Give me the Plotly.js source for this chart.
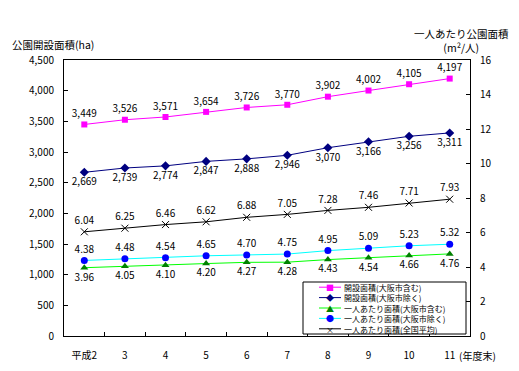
<!DOCTYPE html>
<html><head><meta charset="utf-8">
<script src="https://cdn.plot.ly/plotly-3.0.1.min.js"></script>
<style>html,body{margin:0;padding:0;background:#fff}</style>
</head><body><div id="chart" style="width:519px;height:371px"></div>
<script>
const years = ['平成2','3','4','5','6','7','8','9','10','11'];
const areaInclOsaka = [3449,3526,3571,3654,3726,3770,3902,4002,4105,4197];
const areaExclOsaka = [2669,2739,2774,2847,2888,2946,3070,3166,3256,3311];
const perCapInclOsaka = [3.96,4.05,4.10,4.20,4.27,4.28,4.43,4.54,4.66,4.76];
const perCapExclOsaka = [4.38,4.48,4.54,4.65,4.70,4.75,4.95,5.09,5.23,5.32];
const perCapNational = [6.04,6.25,6.46,6.62,6.88,7.05,7.28,7.46,7.71,7.93];
const seriesNames = ['開設面積(大阪市含む)','開設面積(大阪市除く)','一人あたり面積(大阪市含む)','一人あたり面積(大阪市除く)','一人あたり面積(全国平均)'];

const FONT = 'Noto Sans CJK JP, Liberation Sans, sans-serif';
const L = 64, R = 470, T = 60, B = 336;
const px = x => (x - L) / (R - L);
const py = y => (B - y) / (B - T);

const lbl = {family: FONT, size: 10, color: '#000'};
const traces = [
  {x: years, y: areaInclOsaka, name: seriesNames[0], yaxis: 'y', mode: 'lines+markers+text',
   line: {color: '#FF00FF', width: 1}, marker: {symbol: 'square', size: 6, color: '#FF00FF'},
   texttemplate: '%{y:,}', textposition: 'top center', textfont: lbl},
  {x: years, y: areaExclOsaka, name: seriesNames[1], yaxis: 'y', mode: 'lines+markers+text',
   line: {color: '#000080', width: 1}, marker: {symbol: 'diamond', size: 7, color: '#000080'},
   texttemplate: '%{y:,}', textposition: 'bottom center', textfont: lbl},
  {x: years, y: perCapInclOsaka, name: seriesNames[2], yaxis: 'y2', mode: 'lines+markers+text',
   line: {color: '#00FF00', width: 1}, marker: {symbol: 'triangle-up', size: 7, color: '#008000'},
   texttemplate: '%{y:.2f}', textposition: 'bottom center', textfont: lbl},
  {x: years, y: perCapExclOsaka, name: seriesNames[3], yaxis: 'y2', mode: 'lines+markers+text',
   line: {color: '#00FFFF', width: 1}, marker: {symbol: 'circle', size: 7, color: '#0000FF'},
   texttemplate: '%{y:.2f}', textposition: 'top center', textfont: lbl},
  {x: years, y: perCapNational, name: seriesNames[4], yaxis: 'y2', mode: 'lines+markers+text',
   line: {color: '#000000', width: 1}, marker: {symbol: 'x-thin', size: 7, line: {color: '#000', width: 1}},
   texttemplate: '%{y:.2f}', textposition: 'top center', textfont: lbl}
];

// custom legend (one multi-line text block so rows do not collide)
const legColors = [['#FF00FF','#FF00FF','■'],['#000080','#000080','◆'],['#00FF00','#008000','▲'],['#00FFFF','#0000FF','●'],['#000000','#000000','×']];
const LEG_FS = 8, rowGap = LEG_FS * 1.3, legC = 308;
const rowsY = [-2, -1, 0, 1, 2].map(k => legC + k * rowGap);
const shapes = [{type:'rect', xref:'paper', yref:'paper', x0:px(303), x1:px(466), y0:py(334), y1:py(282),
  line:{color:'#000', width:1}, fillcolor:'#fff', layer:'above'}];
rowsY.forEach((ry, i) => {
  shapes.push({type:'line', xref:'paper', yref:'paper', x0:px(319), x1:px(341), y0:py(ry), y1:py(ry),
    line:{color:legColors[i][0], width:1}, layer:'above'});
});
const annotations = [];
annotations.push({xref:'paper', yref:'paper', x:px(330), y:py(legC), showarrow:false, xanchor:'center', yanchor:'middle',
  align:'center', borderpad:0, font:{family:FONT, size:LEG_FS, color:'#000'},
  text: legColors.map(c => `<span style="color:${c[1]}">${c[2]}</span>`).join('<br>')});
annotations.push({xref:'paper', yref:'paper', x:px(343), y:py(legC), showarrow:false, xanchor:'left', yanchor:'middle',
  align:'left', borderpad:0, font:{family:FONT, size:LEG_FS, color:'#000'}, text: seriesNames.join('<br>')});

annotations.push({xref:'paper', yref:'paper', x:px(10), y:py(45), text:'公園開設面積(ha)', showarrow:false,
  xanchor:'left', yanchor:'middle', font:{family:FONT, size:10.5, color:'#000'}});
annotations.push({xref:'paper', yref:'paper', x:px(461), y:py(41), text:'一人あたり公園面積<br>(m²/人)', showarrow:false,
  xanchor:'center', yanchor:'middle', align:'center', font:{family:FONT, size:10.5, color:'#000'}});
annotations.push({xref:'paper', yref:'paper', x:px(457), y:py(355), text:'(年度末)', showarrow:false,
  xanchor:'left', yanchor:'middle', font:{family:FONT, size:10, color:'#000'}});

const axBase = {showline:true, linecolor:'#000', linewidth:1, showgrid:false, zeroline:false,
  ticks:'inside', ticklen:4, tickcolor:'#000', tickfont:{family:FONT, size:10, color:'#000'}};
const layout = {
  width:519, height:371, margin:{l:L, r:519-R, t:T, b:371-B},
  paper_bgcolor:'#fff', plot_bgcolor:'#fff', showlegend:false,
  xaxis: Object.assign({}, axBase, {type:'category', range:[-0.5, 9.5], tickson:'boundaries', mirror:true, ticklabelstandoff:10}),
  yaxis: Object.assign({}, axBase, {range:[0,4500], dtick:500, tickformat:',', ticklabelstandoff:7}),
  yaxis2: Object.assign({}, axBase, {range:[0,16], dtick:2, overlaying:'y', side:'right', ticklabelstandoff:7}),
  shapes, annotations
};
Plotly.newPlot('chart', traces, layout, {displayModeBar:false, staticPlot:true});
</script></body></html>
